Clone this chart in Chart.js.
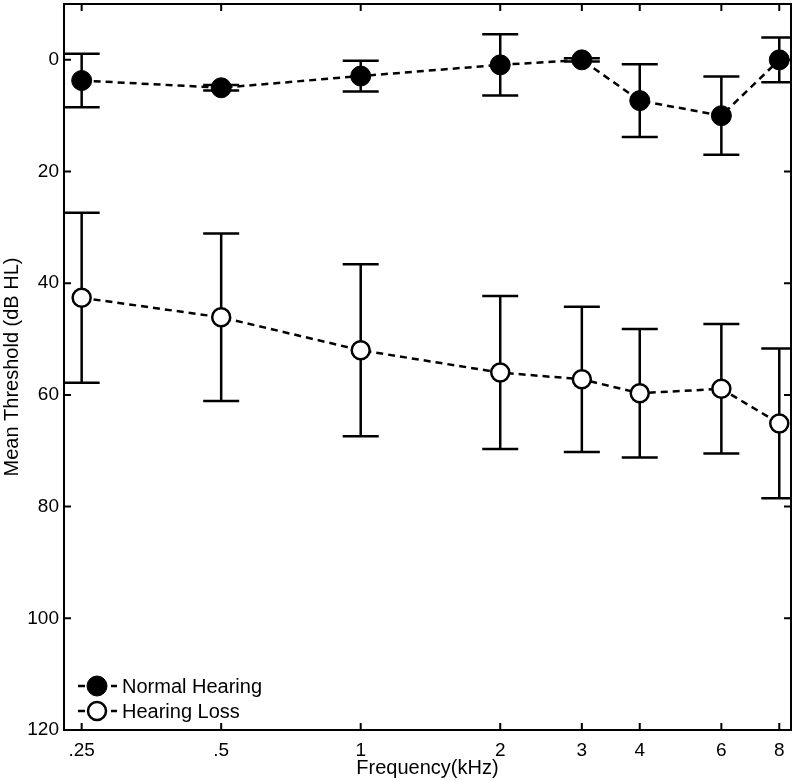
<!DOCTYPE html>
<html>
<head>
<meta charset="utf-8">
<style>
  body { margin: 0; background: #fff; }
  canvas { display: block; }
</style>
<script src="https://cdn.jsdelivr.net/npm/chart.js@4/dist/chart.umd.min.js"></script>
</head>
<body>
<canvas id="chart" width="793" height="780"></canvas>
<script>
// frequencies in kHz and their tick labels
const freqs = [0.25, 0.5, 1, 2, 3, 4, 6, 8]
const freqLabels = [".25", ".5", "1", "2", "3", "4", "6", "8"]
const yTicks = [0, 20, 40, 60, 80, 100, 120]

// mean thresholds (dB HL) and error bar half-lengths
const normalMean = [3.7, 5.0, 2.9, 0.9, 0.0, 7.3, 10.0, 0.0]
const normalErr = [4.8, 0.5, 2.75, 5.5, 0.3, 6.5, 7.0, 4.0]
const lossMean = [42.6, 46.1, 52.0, 56.0, 57.2, 59.7, 58.9, 65.1]
const lossErr = [15.2, 15.0, 15.4, 13.7, 13.0, 11.5, 11.6, 13.4]

const font = "'Liberation Sans', Arial, Helvetica, sans-serif"

function points(means) {
  return freqs.map((f, i) => ({ x: f, y: means[i] }))
}

// no extra room for labels hanging past the ends of the axes
function noPad(scale) {
  scale.paddingTop = 0
  scale.paddingBottom = 0
  scale.paddingLeft = 0
  scale.paddingRight = 0
}

// error bars, drawn under the lines and markers
const errorBars = {
  id: "errorBars",
  beforeDatasetsDraw(chart) {
    const ctx = chart.ctx
    const xs = chart.scales.x
    const ys = chart.scales.y
    const a = chart.chartArea
    ctx.save()
    ctx.beginPath()
    ctx.rect(a.left, a.top, a.right - a.left, a.bottom - a.top)
    ctx.clip()
    ctx.strokeStyle = "#000"
    ctx.lineWidth = 2.5
    chart.data.datasets.forEach(ds => {
      ds.data.forEach((p, i) => {
        const px = xs.getPixelForValue(p.x)
        const y1 = ys.getPixelForValue(p.y - ds.errors[i])
        const y2 = ys.getPixelForValue(p.y + ds.errors[i])
        ctx.beginPath()
        ctx.moveTo(px, y1); ctx.lineTo(px, y2)
        ctx.moveTo(px - 18, y1); ctx.lineTo(px + 18, y1)
        ctx.moveTo(px - 18, y2); ctx.lineTo(px + 18, y2)
        ctx.stroke()
      })
    })
    ctx.restore()
  }
}

// box round the plot with inward ticks on all four sides
const frame = {
  id: "frame",
  afterDraw(chart) {
    const ctx = chart.ctx
    const a = chart.chartArea
    const xs = chart.scales.x
    const ys = chart.scales.y
    ctx.save()
    ctx.strokeStyle = "#000"
    ctx.lineWidth = 2
    ctx.strokeRect(a.left, a.top, a.right - a.left, a.bottom - a.top)
    ctx.beginPath()
    freqs.forEach(f => {
      const px = xs.getPixelForValue(f)
      ctx.moveTo(px, a.bottom); ctx.lineTo(px, a.bottom - 7)
      ctx.moveTo(px, a.top); ctx.lineTo(px, a.top + 7)
    })
    yTicks.forEach(v => {
      const py = ys.getPixelForValue(v)
      ctx.moveTo(a.left, py); ctx.lineTo(a.left + 7, py)
      ctx.moveTo(a.right, py); ctx.lineTo(a.right - 7, py)
    })
    ctx.stroke()

    // legend in the lower left corner
    chart.data.datasets.forEach((ds, i) => {
      const cy = a.bottom - 44 + i * 25
      const cx = a.left + 33
      ctx.setLineDash([7, 4])
      ctx.lineWidth = 2.5
      ctx.beginPath()
      ctx.moveTo(a.left + 14, cy); ctx.lineTo(a.left + 53, cy)
      ctx.stroke()
      ctx.setLineDash([])
      ctx.beginPath()
      ctx.arc(cx, cy, ds.pointRadius, 0, Math.PI * 2)
      ctx.fillStyle = ds.pointBackgroundColor
      ctx.fill()
      ctx.lineWidth = ds.pointBorderWidth
      ctx.stroke()
      ctx.fillStyle = "#000"
      ctx.font = "20px " + font
      ctx.textBaseline = "middle"
      ctx.fillText(ds.label, a.left + 58, cy + 1)
    })
    ctx.restore()
  }
}

new Chart(document.getElementById("chart"), {
  type: "line",
  data: {
    datasets: [
      {
        label: "Normal Hearing",
        data: points(normalMean),
        errors: normalErr,
        borderColor: "#000",
        borderWidth: 2.5,
        borderDash: [7, 5],
        pointRadius: 10,
        pointBackgroundColor: "#000",
        pointBorderColor: "#000",
        pointBorderWidth: 1
      },
      {
        label: "Hearing Loss",
        data: points(lossMean),
        errors: lossErr,
        borderColor: "#000",
        borderWidth: 2.5,
        borderDash: [7, 5],
        pointRadius: 9,
        pointBackgroundColor: "#fff",
        pointBorderColor: "#000",
        pointBorderWidth: 2.5
      }
    ]
  },
  options: {
    responsive: false,
    animation: false,
    layout: { autoPadding: false, padding: { top: 4, right: 2, left: 0, bottom: 0 } },
    plugins: {
      legend: { display: false },
      tooltip: { enabled: false }
    },
    scales: {
      x: {
        type: "logarithmic",
        min: 0.229,
        max: 8.48,
        grid: { display: false, drawTicks: false },
        border: { display: false },
        afterBuildTicks(scale) {
          scale.ticks = freqs.map(v => ({ value: v }))
        },
        afterFit(scale) {
          scale.height = 50
          noPad(scale)
        },
        ticks: {
          autoSkip: false,
          maxRotation: 0,
          padding: 9,
          color: "#000",
          font: { family: font, size: 19 },
          callback(value) {
            return freqLabels[freqs.indexOf(value)]
          }
        },
        title: {
          display: true,
          text: "Frequency(kHz)",
          color: "#000",
          font: { family: font, size: 20 },
          padding: { top: 2, bottom: 0 }
        }
      },
      y: {
        type: "linear",
        reverse: true,
        min: -10,
        max: 120,
        grid: { display: false, drawTicks: false },
        border: { display: false },
        afterBuildTicks(scale) {
          scale.ticks = yTicks.map(v => ({ value: v }))
        },
        afterFit(scale) {
          scale.width = 64
          noPad(scale)
        },
        ticks: {
          padding: 5,
          color: "#000",
          font: { family: font, size: 19 }
        },
        title: {
          display: true,
          text: "Mean Threshold (dB HL)",
          color: "#000",
          font: { family: font, size: 20 },
          padding: { top: 0, bottom: 0 }
        }
      }
    }
  },
  plugins: [errorBars, frame]
})
</script>
</body>
</html>
